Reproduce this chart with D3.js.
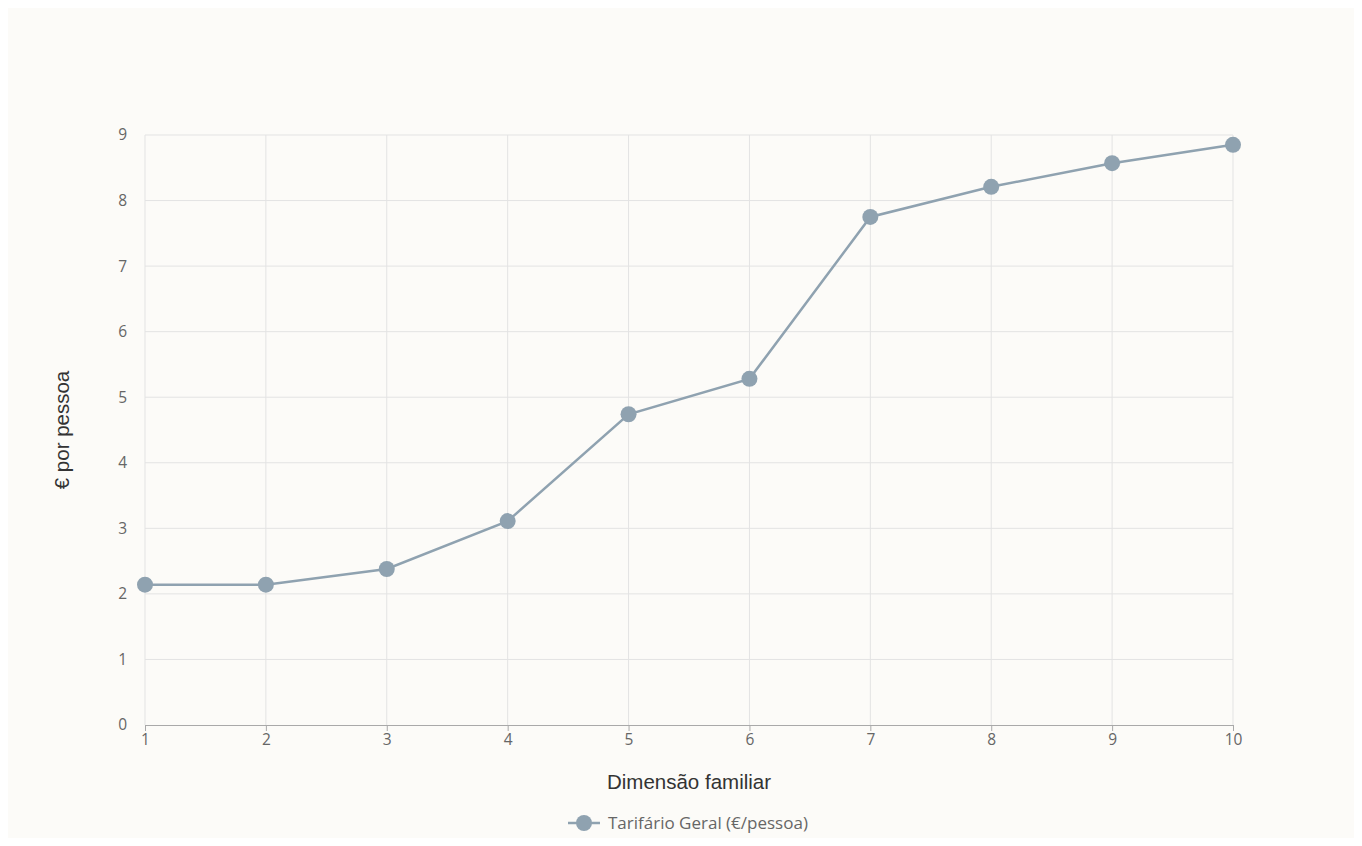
<!DOCTYPE html>
<html>
<head>
<meta charset="utf-8">
<script src="https://cdnjs.cloudflare.com/ajax/libs/d3/7.8.5/d3.min.js"></script>
<style>
  body { margin: 8px; background: #ffffff; }
  #chart { width: 1346px; height: 830px; background: #fcfbf8; }
  .tick text { font-family: "Open Sans", sans-serif; font-size: 15.5px; fill: #666; }
</style>
</head>
<body>
<div id="chart"></div>
<script>
// data
var sizes = [1, 2, 3, 4, 5, 6, 7, 8, 9, 10];
var perPerson = [2.14, 2.14, 2.38, 3.11, 4.74, 5.28, 7.75, 8.21, 8.57, 8.85];
var yTicks = [0, 1, 2, 3, 4, 5, 6, 7, 8, 9];
var seriesName = "Tarifário Geral (€/pessoa)";

var W = 1346, H = 830;
var m = { left: 137, right: 121, top: 127, bottom: 113 };
var col = "#8fa2b0";

var svg = d3.select("#chart").append("svg")
  .attr("width", W).attr("height", H);

var x = d3.scaleLinear().domain([1, 10]).range([m.left, W - m.right]);
var y = d3.scaleLinear().domain([0, 9]).range([H - m.bottom, m.top]);

// grid
svg.append("g").selectAll("line.h")
  .data(yTicks.slice(1)).enter().append("line")
  .attr("x1", x(1)).attr("x2", x(10))
  .attr("y1", d => y(d)).attr("y2", d => y(d))
  .attr("stroke", "#e3e3e3").attr("stroke-width", 1);
svg.append("g").selectAll("line.v")
  .data(sizes).enter().append("line")
  .attr("x1", d => x(d)).attr("x2", d => x(d))
  .attr("y1", y(0)).attr("y2", y(9))
  .attr("stroke", "#e3e3e3").attr("stroke-width", 1);

// axes
var xAxis = svg.append("g")
  .attr("transform", "translate(0," + y(0) + ")")
  .call(d3.axisBottom(x).tickValues(sizes).tickSize(6).tickPadding(3).tickFormat(d3.format("d")));
xAxis.select(".domain").attr("stroke", "#a9a9a9");
xAxis.selectAll(".tick line").attr("stroke", "#a9a9a9");

var yAxis = svg.append("g")
  .attr("transform", "translate(" + x(1) + ",0)")
  .call(d3.axisLeft(y).tickValues(yTicks).tickSize(0).tickPadding(18));
yAxis.select(".domain").remove();

// axis titles
var titleFont = "'Liberation Sans', Arial, sans-serif";
svg.append("text")
  .attr("x", (x(1) + x(10)) / 2).attr("y", 781)
  .attr("text-anchor", "middle")
  .style("font-family", titleFont).style("font-size", "20.5px").style("fill", "#333")
  .text("Dimensão familiar");
svg.append("text")
  .attr("transform", "translate(61," + ((y(0) + y(9)) / 2) + ") rotate(-90)")
  .attr("text-anchor", "middle")
  .style("font-family", titleFont).style("font-size", "20.5px").style("fill", "#333")
  .text("€ por pessoa");

// line + points
var pts = sizes.map((s, i) => [s, perPerson[i]]);
svg.append("path")
  .datum(pts)
  .attr("fill", "none").attr("stroke", col).attr("stroke-width", 2.5)
  .attr("d", d3.line().x(d => x(d[0])).y(d => y(d[1])));
svg.append("g").selectAll("circle")
  .data(pts).enter().append("circle")
  .attr("cx", d => x(d[0])).attr("cy", d => y(d[1]))
  .attr("r", 8).attr("fill", col);

// legend
var lg = svg.append("g").attr("transform", "translate(560,815)");
lg.append("line").attr("x1", 0).attr("x2", 32).attr("y1", 0).attr("y2", 0)
  .attr("stroke", col).attr("stroke-width", 2.5);
lg.append("circle").attr("cx", 16).attr("cy", 0).attr("r", 8).attr("fill", col);
lg.append("text").attr("x", 40).attr("y", 6)
  .style("font-family", "Open Sans, sans-serif").style("font-size", "17px").style("fill", "#666")
  .text(seriesName);
</script>
</body>
</html>
